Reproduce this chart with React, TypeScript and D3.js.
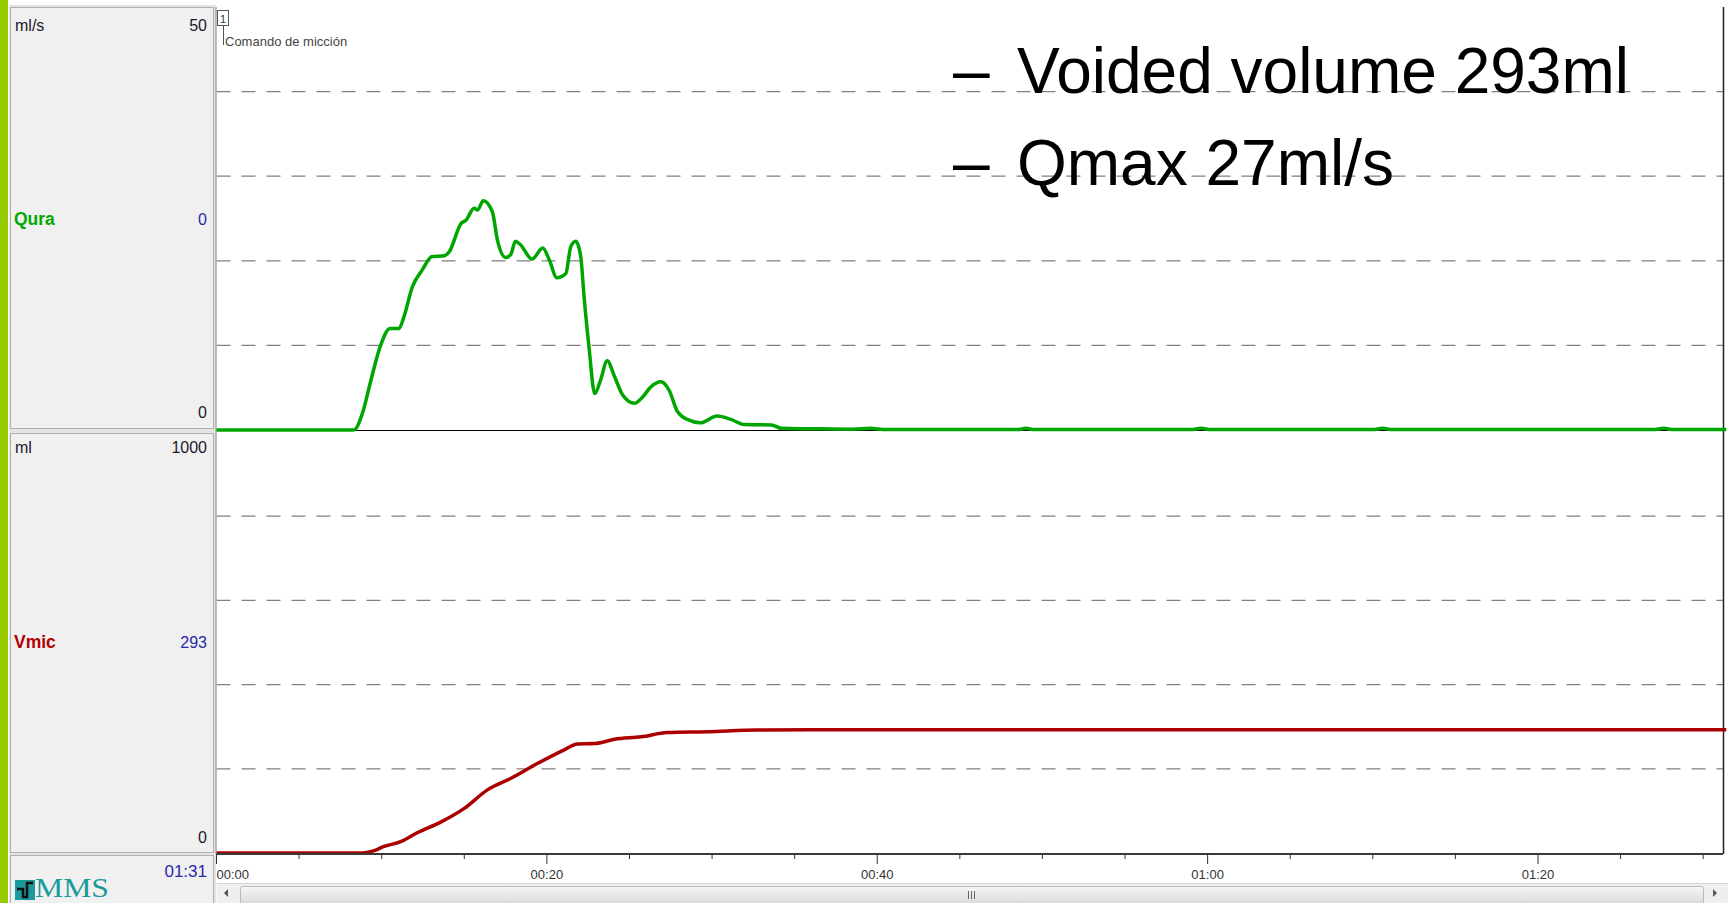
import React from "react";
import * as d3 from "d3";

const W = 1728;
const H = 903;

// Uroflow (Qura, ml/s)
const flowTime = [0, 8.3, 8.9, 9.3, 9.9, 10.5, 11.05, 11.35, 11.85, 12.45, 13.05, 13.8, 14.1, 14.8, 15.1, 15.6, 15.8, 16.15, 16.7, 17.0, 17.5, 17.8, 18.1, 18.4, 19.1, 19.75, 20.15, 20.6, 21.15, 21.45, 21.75, 22.05, 22.25, 22.55, 22.9, 23.25, 23.65, 24.1, 24.6, 25.3, 25.8, 26.3, 26.9, 27.4, 27.9, 28.5, 29.3, 30.3, 31.15, 31.95, 33.6, 34.2, 36, 38.5, 39.6, 40.5, 48.5, 49, 49.5, 59, 59.6, 60.2, 70, 70.6, 71.2, 87, 87.6, 88.2, 91.4];
const flowValues = [0, 0, 2.4, 5.5, 9.8, 12.0, 12.0, 13.4, 16.9, 18.9, 20.5, 20.6, 21.1, 24.4, 24.8, 26.2, 26.0, 27.1, 25.8, 22.5, 20.4, 20.7, 22.3, 21.9, 20.2, 21.5, 20.1, 18.0, 18.5, 21.7, 22.3, 20.5, 15.8, 9.8, 4.3, 5.9, 8.2, 6.3, 4.1, 3.15, 3.9, 5.1, 5.7, 4.7, 2.2, 1.25, 0.85, 1.65, 1.25, 0.65, 0.6, 0.2, 0.15, 0.1, 0.2, 0.05, 0.05, 0.2, 0.05, 0.05, 0.2, 0.05, 0.05, 0.2, 0.05, 0.05, 0.2, 0.05, 0.05];

// Voided volume (Vmic, ml)
const volTime = [0, 8.8, 9.5, 10.1, 11.15, 12.15, 13.6, 15.0, 16.4, 17.8, 19.45, 21.05, 21.85, 22.9, 24.1, 25.7, 27.3, 29.7, 32.7, 37.2, 91.4];
const volValues = [0, 0, 5, 15, 27, 48, 74, 106, 150, 177, 213, 245, 259, 260, 270, 276, 286, 288, 292, 293, 293];

const flowGrid = [10, 20, 30, 40];
const volGrid = [200, 400, 600, 800];
const timeTicks = [0, 5, 10, 15, 20, 25, 30, 35, 40, 45, 50, 55, 60, 65, 70, 75, 80, 85, 90];
const timeLabels = [0, 20, 40, 60, 80];

const annotations = ["Voided volume 293ml", "Qmax 27ml/s"];

const fmt = (s: number) => {
  const m = Math.floor(s / 60);
  const ss = s % 60;
  return `${String(m).padStart(2, "0")}:${String(ss).padStart(2, "0")}`;
};

export default function App() {
  const x0 = 216.5;
  const x1 = 1723;
  const x = d3.scaleLinear().domain([0, 91.2]).range([x0, x1]);
  const yF = d3.scaleLinear().domain([0, 50]).range([430, 7]);
  const yV = d3.scaleLinear().domain([0, 1000]).range([853, 432]);

  const flowLine = d3
    .line<number>()
    .x((_, i) => x(flowTime[i]))
    .y((v) => yF(v))
    .curve(d3.curveMonotoneX);
  const volLine = d3
    .line<number>()
    .x((_, i) => x(volTime[i]))
    .y((v) => yV(v))
    .curve(d3.curveMonotoneX);

  const sans = "'Liberation Sans', Arial, sans-serif";
  const axisY = 854;

  return (
    <svg
      width={W}
      height={H}
      style={{ position: "absolute", left: 0, top: 0, background: "#fff" }}
      fontFamily={sans}
    >
      <rect x={0} y={0} width={W} height={H} fill="#ffffff" />
      {/* green side bar */}
      <rect x={0} y={0} width={8} height={H} fill="#99cc00" />

      {/* left panels */}
      <rect x={9} y={5} width={207} height={H} fill="#e4e4e4" />
      <rect x={10.5} y={7.5} width={203} height={421} fill="#f0f0f0" stroke="#b0b0b0" />
      <rect x={10.5} y={433.5} width={203} height={419} fill="#f0f0f0" stroke="#b0b0b0" />
      <rect x={10.5} y={855.5} width={203} height={50} fill="#f0f0f0" stroke="#b0b0b0" />

      <g fontSize={16} fill="#1a1a2a">
        <text x={15} y={31}>ml/s</text>
        <text x={207} y={31} textAnchor="end">50</text>
        <text x={207} y={418} textAnchor="end">0</text>
        <text x={15} y={453}>ml</text>
        <text x={207} y={453} textAnchor="end">1000</text>
        <text x={207} y={843} textAnchor="end">0</text>
      </g>
      <text x={14} y={225} fontSize={17.5} fontWeight="bold" fill="#00a800">Qura</text>
      <text x={207} y={225} fontSize={16} fill="#2828a8" textAnchor="end">0</text>
      <text x={14} y={648} fontSize={17.5} fontWeight="bold" fill="#b00000">Vmic</text>
      <text x={207} y={648} fontSize={16} fill="#2828a8" textAnchor="end">293</text>
      <text x={207} y={877} fontSize={17} fill="#2828a8" textAnchor="end">01:31</text>

      {/* MMS logo */}
      <rect x={15} y={880} width={20} height={20} fill="#1a9a9a" />
      <path d="M17,889 L23,889 L23,897 L27,897 L27,883 L33,883" fill="none" stroke="#111" strokeWidth={2.5} />
      <text x={35} y={897} fontSize={27} fill="#1a9a9a" fontFamily="'Liberation Serif', 'Times New Roman', serif" textLength={74} lengthAdjust="spacingAndGlyphs">MMS</text>

      {/* plot area */}
      <rect x={x0} y={7} width={x1 - x0} height={axisY - 7} fill="#ffffff" />

      {/* grid lines */}
      {flowGrid.map((g) => (
        <line key={"fg" + g} x1={x0} x2={x1} y1={yF(g)} y2={yF(g)} stroke="#808080" strokeWidth={1.3} strokeDasharray="14,11" />
      ))}
      {volGrid.map((g) => (
        <line key={"vg" + g} x1={x0} x2={x1} y1={yV(g)} y2={yV(g)} stroke="#808080" strokeWidth={1.3} strokeDasharray="14,11" />
      ))}

      {/* zero line of flow panel */}
      <line x1={x0} x2={x1} y1={430.5} y2={430.5} stroke="#000" strokeWidth={1} />

      {/* plot borders */}
      <line x1={x0 - 0.5} x2={x0 - 0.5} y1={7} y2={axisY} stroke="#a8a8a8" strokeWidth={1.5} />
      <line x1={x1 + 0.5} x2={x1 + 0.5} y1={7} y2={axisY} stroke="#222" strokeWidth={1.5} />

      {/* event marker */}
      <rect x={217.5} y={10.5} width={11} height={15} fill="#fff" stroke="#555" strokeWidth={1} />
      <text x={223} y={23} fontSize={11} fill="#333" textAnchor="middle">1</text>
      <line x1={223.5} x2={223.5} y1={26} y2={45} stroke="#555" strokeWidth={1} />
      <text x={225} y={46} fontSize={13} fill="#444">Comando de micción</text>

      {/* series */}
      <path d={volLine(volValues) || ""} fill="none" stroke="#aa0000" strokeWidth={3.5} strokeLinejoin="round" />
      <path d={flowLine(flowValues) || ""} fill="none" stroke="#00a600" strokeWidth={3.5} strokeLinejoin="round" />

      {/* time axis */}
      <line x1={x0} x2={x1} y1={axisY} y2={axisY} stroke="#3a3a3a" strokeWidth={2} />
      {timeTicks.map((t) => {
        const major = timeLabels.includes(t);
        return (
          <line key={"t" + t} x1={x(t)} x2={x(t)} y1={axisY} y2={axisY + (major ? 10 : 5)} stroke="#333" strokeWidth={1} />
        );
      })}
      {timeLabels.map((t) => (
        <text key={"l" + t} x={x(t)} y={879} fontSize={13} fill="#333" textAnchor={t === 0 ? "start" : "middle"}>
          {fmt(t)}
        </text>
      ))}

      {/* scrollbar */}
      <rect x={x0} y={883} width={x1 - x0 + 5} height={20} fill="#efefef" />
      <line x1={x0} x2={W} y1={883.5} y2={883.5} stroke="#d4d4d4" />
      <path d="M228,889 L224,893 L228,897 Z" fill="#555" />
      <defs>
        <linearGradient id="thumb" x1="0" y1="0" x2="0" y2="1">
          <stop offset="0" stopColor="#f6f6f6" />
          <stop offset="1" stopColor="#d8d8d8" />
        </linearGradient>
      </defs>
      <rect x={240.5} y={886.5} width={1463} height={18} rx={2} fill="url(#thumb)" stroke="#b8b8b8" />
      <g stroke="#666" strokeWidth={1}>
        <line x1={968.5} x2={968.5} y1={891} y2={899} />
        <line x1={971.5} x2={971.5} y1={891} y2={899} />
        <line x1={974.5} x2={974.5} y1={891} y2={899} />
      </g>
      <path d="M1713,889 L1717,893 L1713,897 Z" fill="#555" />

      {/* annotation text */}
      {annotations.map((a, i) => (
        <g key={a}>
          <text x={953} y={93 + i * 92} fontSize={66} fill="#000" fontFamily={sans}>–</text>
          <text x={1017} y={93 + i * 92} fontSize={64} fill="#000" fontFamily={sans}>{a}</text>
        </g>
      ))}
    </svg>
  );
}
